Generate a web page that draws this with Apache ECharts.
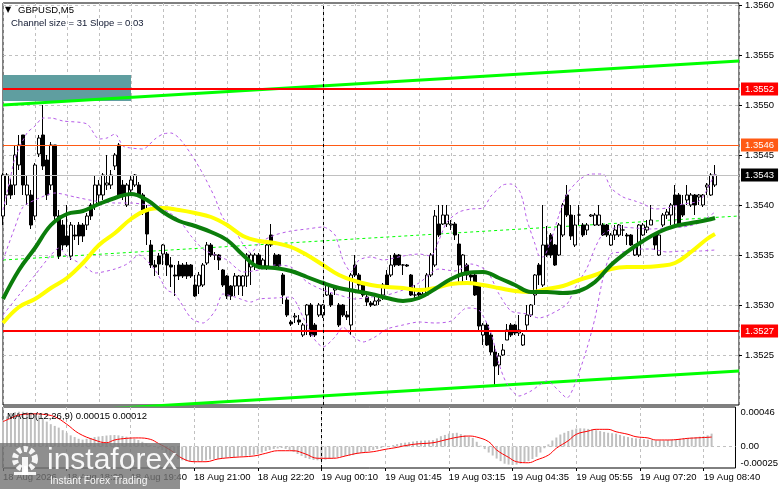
<!DOCTYPE html>
<html>
<head>
<meta charset="utf-8">
<title>GBPUSD,M5</title>
<script src="https://cdn.jsdelivr.net/npm/echarts@6/dist/echarts.min.js"></script>
<style>
  html, body { margin: 0; padding: 0; background: #fff; }
  #chart { width: 781px; height: 489px; }
</style>
</head>
<body>
<div id="chart"></div>
<script>
'use strict';

// time axis: one slot per M5 bar, a label every 16 bars
var tickBars = [0, 16, 32, 48, 64, 80, 96, 112, 128, 144, 160, 176];
var tickLabels = ['18 Aug 2026', '18 Aug 18:20', '18 Aug 19:40', '18 Aug 21:00', '18 Aug 22:20',
    '19 Aug 00:10', '19 Aug 01:45', '19 Aug 03:15', '19 Aug 04:35', '19 Aug 05:55',
    '19 Aug 07:20', '19 Aug 08:40'];
var daySplitBar = 80;

var priceTicks = [1.3525, 1.3530, 1.3535, 1.3540, 1.3545, 1.3550, 1.3555, 1.3560];
var macdTicks = [-0.00025, 0, 0.00046];

// open, close, low, high
var ohlc = [
    [1.35389, 1.35430, 1.35380, 1.35432], [1.35410, 1.35430, 1.35400, 1.35432], [1.35420, 1.35410, 1.35406, 1.35426],
    [1.35420, 1.35450, 1.35410, 1.35460], [1.35440, 1.35460, 1.35435, 1.35470], [1.35470, 1.35420, 1.35410, 1.35470],
    [1.35410, 1.35420, 1.35400, 1.35430], [1.35410, 1.35380, 1.35376, 1.35415], [1.35389, 1.35440, 1.35385, 1.35442],
    [1.35451, 1.35467, 1.35448, 1.35470], [1.35470, 1.35439, 1.35435, 1.35500], [1.35445, 1.35410, 1.35405, 1.35450],
    [1.35420, 1.35460, 1.35415, 1.35463], [1.35460, 1.35389, 1.35385, 1.35460], [1.35389, 1.35349, 1.35346, 1.35395],
    [1.35380, 1.35360, 1.35355, 1.35385], [1.35369, 1.35360, 1.35358, 1.35400], [1.35349, 1.35380, 1.35345, 1.35383],
    [1.35370, 1.35369, 1.35365, 1.35380], [1.35380, 1.35369, 1.35360, 1.35383], [1.35380, 1.35369, 1.35363, 1.35382],
    [1.35380, 1.35389, 1.35375, 1.35392], [1.35400, 1.35389, 1.35385, 1.35402], [1.35400, 1.35420, 1.35395, 1.35430],
    [1.35410, 1.35420, 1.35400, 1.35425], [1.35410, 1.35430, 1.35405, 1.35432], [1.35420, 1.35422, 1.35415, 1.35450],
    [1.35420, 1.35430, 1.35416, 1.35435], [1.35439, 1.35450, 1.35435, 1.35452], [1.35460, 1.35410, 1.35408, 1.35462],
    [1.35420, 1.35410, 1.35405, 1.35425], [1.35400, 1.35420, 1.35398, 1.35422], [1.35415, 1.35425, 1.35412, 1.35430],
    [1.35420, 1.35430, 1.35418, 1.35431], [1.35420, 1.35410, 1.35408, 1.35423], [1.35410, 1.35395, 1.35390, 1.35412],
    [1.35395, 1.35371, 1.35360, 1.35400], [1.35360, 1.35340, 1.35337, 1.35365], [1.35340, 1.35338, 1.35329, 1.35345],
    [1.35349, 1.35341, 1.35330, 1.35352], [1.35351, 1.35360, 1.35340, 1.35361], [1.35351, 1.35340, 1.35329, 1.35353],
    [1.35340, 1.35338, 1.35318, 1.35348], [1.35330, 1.35329, 1.35309, 1.35340], [1.35340, 1.35329, 1.35325, 1.35344],
    [1.35340, 1.35329, 1.35327, 1.35342], [1.35340, 1.35329, 1.35326, 1.35343], [1.35340, 1.35329, 1.35327, 1.35341],
    [1.35320, 1.35309, 1.35308, 1.35330], [1.35319, 1.35330, 1.35311, 1.35333], [1.35320, 1.35340, 1.35318, 1.35342],
    [1.35342, 1.35360, 1.35340, 1.35363], [1.35360, 1.35350, 1.35348, 1.35362], [1.35350, 1.35350, 1.35345, 1.35353],
    [1.35350, 1.35345, 1.35335, 1.35351], [1.35335, 1.35320, 1.35318, 1.35336], [1.35329, 1.35309, 1.35306, 1.35330],
    [1.35319, 1.35309, 1.35305, 1.35320], [1.35319, 1.35329, 1.35309, 1.35332], [1.35319, 1.35329, 1.35310, 1.35330],
    [1.35319, 1.35329, 1.35309, 1.35330], [1.35329, 1.35350, 1.35318, 1.35352], [1.35338, 1.35350, 1.35320, 1.35352],
    [1.35339, 1.35350, 1.35335, 1.35352], [1.35350, 1.35339, 1.35336, 1.35352], [1.35339, 1.35345, 1.35337, 1.35347],
    [1.35339, 1.35360, 1.35335, 1.35362], [1.35370, 1.35360, 1.35358, 1.35381], [1.35350, 1.35339, 1.35336, 1.35352],
    [1.35350, 1.35339, 1.35337, 1.35351], [1.35330, 1.35310, 1.35301, 1.35332], [1.35305, 1.35290, 1.35288, 1.35308],
    [1.35283, 1.35281, 1.35279, 1.35285], [1.35288, 1.35289, 1.35282, 1.35292], [1.35285, 1.35283, 1.35280, 1.35290],
    [1.35270, 1.35280, 1.35268, 1.35282], [1.35290, 1.35300, 1.35270, 1.35301], [1.35300, 1.35270, 1.35268, 1.35302],
    [1.35280, 1.35270, 1.35268, 1.35282], [1.35290, 1.35300, 1.35288, 1.35302], [1.35290, 1.35300, 1.35287, 1.35301],
    [1.35310, 1.35320, 1.35309, 1.35322], [1.35310, 1.35300, 1.35298, 1.35312], [1.35315, 1.35317, 1.35310, 1.35320],
    [1.35300, 1.35280, 1.35278, 1.35302], [1.35300, 1.35290, 1.35288, 1.35301], [1.35290, 1.35288, 1.35285, 1.35294],
    [1.35280, 1.35330, 1.35270, 1.35332], [1.35340, 1.35330, 1.35328, 1.35350], [1.35330, 1.35320, 1.35315, 1.35332],
    [1.35320, 1.35310, 1.35308, 1.35322], [1.35308, 1.35303, 1.35299, 1.35310], [1.35302, 1.35300, 1.35298, 1.35304],
    [1.35300, 1.35304, 1.35299, 1.35308], [1.35304, 1.35305, 1.35300, 1.35310], [1.35310, 1.35320, 1.35305, 1.35322],
    [1.35330, 1.35320, 1.35318, 1.35335], [1.35330, 1.35340, 1.35328, 1.35350], [1.35350, 1.35340, 1.35338, 1.35352],
    [1.35350, 1.35340, 1.35339, 1.35351], [1.35340, 1.35340, 1.35330, 1.35341], [1.35340, 1.35339, 1.35338, 1.35341],
    [1.35330, 1.35310, 1.35309, 1.35331], [1.35310, 1.35310, 1.35305, 1.35320], [1.35312, 1.35310, 1.35308, 1.35313],
    [1.35310, 1.35311, 1.35308, 1.35313], [1.35310, 1.35330, 1.35309, 1.35332], [1.35330, 1.35350, 1.35328, 1.35352],
    [1.35340, 1.35389, 1.35338, 1.35395], [1.35381, 1.35370, 1.35368, 1.35400], [1.35381, 1.35390, 1.35380, 1.35400],
    [1.35381, 1.35390, 1.35378, 1.35400], [1.35380, 1.35381, 1.35375, 1.35385], [1.35381, 1.35370, 1.35365, 1.35383],
    [1.35361, 1.35340, 1.35320, 1.35371], [1.35330, 1.35350, 1.35320, 1.35351], [1.35340, 1.35330, 1.35325, 1.35342],
    [1.35330, 1.35328, 1.35320, 1.35332], [1.35330, 1.35310, 1.35309, 1.35331], [1.35320, 1.35279, 1.35275, 1.35321],
    [1.35270, 1.35280, 1.35260, 1.35282], [1.35280, 1.35260, 1.35259, 1.35282], [1.35270, 1.35253, 1.35250, 1.35272],
    [1.35253, 1.35239, 1.35218, 1.35260], [1.35240, 1.35249, 1.35230, 1.35252], [1.35250, 1.35255, 1.35249, 1.35261],
    [1.35265, 1.35275, 1.35265, 1.35281], [1.35280, 1.35270, 1.35268, 1.35282], [1.35280, 1.35272, 1.35270, 1.35281],
    [1.35272, 1.35275, 1.35269, 1.35290], [1.35260, 1.35270, 1.35259, 1.35272], [1.35280, 1.35290, 1.35275, 1.35300],
    [1.35290, 1.35300, 1.35288, 1.35301], [1.35310, 1.35330, 1.35300, 1.35331], [1.35340, 1.35330, 1.35320, 1.35342],
    [1.35320, 1.35360, 1.35318, 1.35400], [1.35360, 1.35350, 1.35348, 1.35379], [1.35370, 1.35350, 1.35347, 1.35372],
    [1.35360, 1.35340, 1.35339, 1.35361], [1.35350, 1.35380, 1.35349, 1.35382], [1.35370, 1.35400, 1.35368, 1.35402],
    [1.35410, 1.35390, 1.35388, 1.35420], [1.35390, 1.35369, 1.35365, 1.35400], [1.35360, 1.35380, 1.35358, 1.35390],
    [1.35390, 1.35390, 1.35380, 1.35400], [1.35380, 1.35370, 1.35368, 1.35382], [1.35375, 1.35380, 1.35370, 1.35382],
    [1.35389, 1.35390, 1.35388, 1.35391], [1.35380, 1.35390, 1.35379, 1.35392], [1.35380, 1.35390, 1.35379, 1.35400],
    [1.35380, 1.35370, 1.35369, 1.35382], [1.35380, 1.35370, 1.35368, 1.35381], [1.35360, 1.35370, 1.35359, 1.35372],
    [1.35370, 1.35375, 1.35365, 1.35380], [1.35370, 1.35380, 1.35368, 1.35381], [1.35375, 1.35375, 1.35369, 1.35380],
    [1.35370, 1.35369, 1.35360, 1.35372], [1.35370, 1.35360, 1.35359, 1.35371], [1.35350, 1.35360, 1.35349, 1.35361],
    [1.35350, 1.35380, 1.35348, 1.35381], [1.35370, 1.35380, 1.35369, 1.35382], [1.35375, 1.35378, 1.35372, 1.35385],
    [1.35380, 1.35385, 1.35380, 1.35400], [1.35370, 1.35360, 1.35355, 1.35372], [1.35350, 1.35370, 1.35349, 1.35372],
    [1.35380, 1.35390, 1.35378, 1.35392], [1.35390, 1.35393, 1.35386, 1.35396], [1.35390, 1.35400, 1.35380, 1.35402],
    [1.35410, 1.35400, 1.35380, 1.35420], [1.35410, 1.35380, 1.35379, 1.35412], [1.35400, 1.35390, 1.35388, 1.35410],
    [1.35405, 1.35410, 1.35400, 1.35420], [1.35400, 1.35410, 1.35398, 1.35412], [1.35410, 1.35400, 1.35390, 1.35411],
    [1.35408, 1.35410, 1.35400, 1.35411], [1.35400, 1.35410, 1.35398, 1.35411], [1.35418, 1.35420, 1.35410, 1.35422],
    [1.35410, 1.35430, 1.35409, 1.35432], [1.35420, 1.35430, 1.35418, 1.35440]
];

// moving averages and bollinger bands, read at bar positions
var maFast = [[0, 1.35306], [4, 1.35335], [8, 1.35357], [12, 1.35380], [16, 1.35391], [20, 1.35394], [24, 1.35401],
    [28, 1.35407], [32, 1.35411], [36, 1.35405], [40, 1.35393], [44, 1.35384], [48, 1.35379], [52, 1.35373],
    [56, 1.35365], [60, 1.35350], [64, 1.35338], [68, 1.35337], [72, 1.35334], [76, 1.35328], [80, 1.35322],
    [84, 1.35317], [88, 1.35314], [92, 1.35311], [96, 1.35307], [100, 1.35304], [104, 1.35307], [108, 1.35316],
    [112, 1.35326], [116, 1.35332], [120, 1.35333], [124, 1.35327], [128, 1.35320], [132, 1.35313], [136, 1.35313],
    [140, 1.35312], [144, 1.35314], [148, 1.35323], [152, 1.35340], [156, 1.35353], [160, 1.35364], [164, 1.35373],
    [168, 1.35379], [172, 1.35382], [176, 1.35385], [178, 1.35387]];
var maSlow = [[0, 1.35282], [4, 1.35298], [8, 1.35306], [12, 1.35317], [16, 1.35327], [20, 1.35342], [24, 1.35360],
    [28, 1.35372], [32, 1.35386], [36, 1.35395], [40, 1.35397], [44, 1.35395], [48, 1.35392], [52, 1.35388],
    [56, 1.35380], [60, 1.35369], [64, 1.35364], [68, 1.35362], [72, 1.35358], [76, 1.35350], [80, 1.35340],
    [84, 1.35330], [88, 1.35324], [92, 1.35320], [96, 1.35318], [100, 1.35317], [104, 1.35315], [108, 1.35317],
    [112, 1.35321], [116, 1.35322], [120, 1.35320], [124, 1.35317], [128, 1.35314], [132, 1.35313], [136, 1.35316],
    [140, 1.35319], [144, 1.35325], [148, 1.35330], [152, 1.35336], [156, 1.35338], [160, 1.35338], [164, 1.35339],
    [168, 1.35342], [172, 1.35353], [176, 1.35366], [178, 1.35371]];
var bbUpper = [[0, 1.35395], [2, 1.35430], [3, 1.35447], [6, 1.35472], [8, 1.35479], [10, 1.35487], [12, 1.35487],
    [15, 1.35484], [21, 1.35481], [24, 1.35466], [26, 1.35467], [28, 1.35471], [30, 1.35459], [32, 1.35457],
    [35, 1.35456], [38, 1.35466], [40, 1.35471], [42, 1.35472], [44, 1.35467], [47, 1.35451], [50, 1.35431],
    [53, 1.35407], [55, 1.35387], [58, 1.35374], [60, 1.35361], [62, 1.35352], [64, 1.35362], [68, 1.35370],
    [72, 1.35374], [76, 1.35376], [80, 1.35378], [83, 1.35370], [85, 1.35345], [87, 1.35333], [89, 1.35345],
    [92, 1.35348], [95, 1.35345], [100, 1.35349], [104, 1.35351], [107, 1.35349], [109, 1.35365], [111, 1.35383],
    [114, 1.35393], [117, 1.35396], [120, 1.35397], [122, 1.35409], [125, 1.35420], [127, 1.35421], [129, 1.35415],
    [130, 1.35404], [131, 1.35385], [133, 1.35361], [134, 1.35349], [135, 1.35348], [137, 1.35365], [139, 1.35390],
    [141, 1.35411], [144, 1.35425], [147, 1.35431], [150, 1.35431], [152, 1.35417], [155, 1.35408], [158, 1.35404],
    [160, 1.35401], [163, 1.35396], [166, 1.35397], [170, 1.35401], [174, 1.35404], [176, 1.35415], [178, 1.35432]];
var bbMiddle = [[0, 1.35345], [3, 1.35378], [5, 1.35398], [8, 1.35405], [13, 1.35412], [18, 1.35408], [23, 1.35404],
    [28, 1.35402], [32, 1.35402], [36, 1.35400], [40, 1.35396], [44, 1.35385], [47, 1.35369], [50, 1.35356],
    [53, 1.35350], [56, 1.35345], [60, 1.35333], [64, 1.35335], [68, 1.35340], [72, 1.35338], [76, 1.35323],
    [80, 1.35315], [84, 1.35310], [88, 1.35306], [92, 1.35308], [96, 1.35310], [100, 1.35315], [104, 1.35322],
    [109, 1.35336], [113, 1.35334], [117, 1.35341], [121, 1.35334], [124, 1.35311], [127, 1.35294], [131, 1.35291],
    [134, 1.35287], [137, 1.35291], [141, 1.35301], [143, 1.35317], [146, 1.35337], [148, 1.35357], [150, 1.35371],
    [154, 1.35378], [158, 1.35377], [162, 1.35376], [166, 1.35377], [170, 1.35378], [174, 1.35382], [178, 1.35393]];
var bbLower = [[0, 1.35290], [4, 1.35310], [8, 1.35330], [12, 1.35350], [14, 1.35357], [16, 1.35349], [20, 1.35340],
    [23, 1.35332], [28, 1.35336], [31, 1.35341], [34, 1.35350], [38, 1.35335], [41, 1.35315], [43, 1.35311],
    [47, 1.35287], [50, 1.35282], [53, 1.35294], [55, 1.35311], [58, 1.35308], [62, 1.35303], [64, 1.35306],
    [68, 1.35307], [72, 1.35308], [75, 1.35288], [78, 1.35265], [80, 1.35258], [83, 1.35268], [85, 1.35278],
    [87, 1.35270], [90, 1.35263], [93, 1.35268], [96, 1.35276], [100, 1.35280], [104, 1.35283], [108, 1.35282],
    [112, 1.35284], [116, 1.35297], [119, 1.35295], [122, 1.35272], [124, 1.35241], [126, 1.35221], [129, 1.35209],
    [132, 1.35214], [136, 1.35224], [139, 1.35214], [141, 1.35207], [143, 1.35221], [146, 1.35257], [148, 1.35287],
    [150, 1.35327], [152, 1.35351], [155, 1.35353], [158, 1.35356], [162, 1.35356], [166, 1.35353], [170, 1.35354],
    [174, 1.35354], [178, 1.35355]];

// regression channel ends (bar 0 and bar 184)
var channelBars = [0, 184];
var channelTop = [1.35500, 1.35544];
var channelMid = [1.35345, 1.35389];
var channelLow = [1.35190, 1.35234];

// horizontal levels
var levelValues = [1.35516, 1.35460, 1.35430, 1.35274];
var levelTexts = ['1.3552', '1.3546', '1.3543', '1.3527'];
var zoneBars = [0, 32];
var zonePrices = [1.35504, 1.35530];

// MACD(12,26,9)
var macdHist = [
    31e-5, 35e-5, 39e-5, 40e-5, 40.5e-5, 40.5e-5, 40e-5, 39.5e-5, 39e-5, 36e-5,
    33e-5, 29e-5, 26e-5, 24e-5, 22e-5, 19e-5, 16e-5, 13e-5, 11e-5, 9e-5,
    8e-5, 9e-5, 10e-5, 11e-5, 11.6e-5, 12.2e-5, 12.8e-5, 13.2e-5, 13.4e-5, 13e-5,
    12.2e-5, 11.4e-5, 10.5e-5, 9e-5, 7.6e-5, 5.5e-5, 3.5e-5, 1.5e-5, -0.6e-5, -2.3e-5,
    -4e-5, -7e-5, -10e-5, -12.3e-5, -14.5e-5, -16e-5, -17e-5, -17.3e-5, -17.5e-5, -17.3e-5,
    -17e-5, -16e-5, -15e-5, -14.5e-5, -14e-5, -13.4e-5, -12.8e-5, -12.5e-5, -12.2e-5, -11.6e-5,
    -11e-5, -10.8e-5, -10.5e-5, -9.6e-5, -8.7e-5, -7e-5, -5.2e-5, -4e-5, -2.9e-5, -2.3e-5,
    -1.7e-5, -2.8e-5, -4e-5, -6.3e-5, -8.7e-5, -11e-5, -13.4e-5, -14.6e-5, -15.7e-5, -16e-5,
    -16.3e-5, -15.4e-5, -14.5e-5, -13.4e-5, -12.2e-5, -11.6e-5, -11e-5, -10.5e-5, -10e-5, -8.8e-5,
    -7.6e-5, -6.4e-5, -5.2e-5, -4e-5, -2.9e-5, -1.7e-5, -0.6e-5, 0.5e-5, 1.7e-5, 2.8e-5,
    4e-5, 4.5e-5, 5e-5, 5.8e-5, 6.5e-5, 6.8e-5, 7e-5, 7.2e-5, 7.5e-5, 9.5e-5,
    12e-5, 13.5e-5, 15e-5, 15.5e-5, 16e-5, 14.5e-5, 13e-5, 11.5e-5, 10e-5, 5.5e-5,
    1e-5, -3e-5, -7e-5, -10.5e-5, -14e-5, -17e-5, -20e-5, -21e-5, -21.5e-5, -21e-5,
    -20e-5, -18.5e-5, -17e-5, -14.5e-5, -12e-5, -7e-5, -2e-5, 2.5e-5, 7e-5, 10.5e-5,
    14e-5, 16e-5, 18e-5, 19.5e-5, 21e-5, 21.2e-5, 21e-5, 20.5e-5, 20e-5, 19e-5,
    18e-5, 17e-5, 16e-5, 15.5e-5, 15e-5, 13.5e-5, 12e-5, 11e-5, 10e-5, 9.5e-5,
    9e-5, 8.5e-5, 8e-5, 7.5e-5, 7e-5, 7e-5, 7e-5, 7.5e-5, 8e-5, 8.5e-5,
    9e-5, 9.5e-5, 10e-5, 10.5e-5, 11e-5, 11.5e-5, 12e-5, 13e-5, 15e-5
];
var macdSignal = [[0, 29e-5], [2, 33e-5], [4, 36.7e-5], [8, 38e-5], [10, 37.5e-5], [13, 34.7e-5], [16, 26e-5],
    [19, 15.4e-5], [23, 7.6e-5], [26, 4.4e-5], [28, 7.6e-5], [31, 9.5e-5], [34, 10e-5], [37, 8.4e-5], [39, 3.7e-5],
    [42, -4e-5], [45, -13.7e-5], [48, -17.7e-5], [51, -17.7e-5], [54, -14.5e-5], [58, -12.6e-5], [63, -11e-5],
    [66, -7.9e-5], [69, -4.9e-5], [73, -4.9e-5], [76, -8.7e-5], [79, -13.7e-5], [83, -13.7e-5], [86, -11e-5],
    [89, -7.9e-5], [93, -6e-5], [96, -3.3e-5], [99, -1e-5], [101, 1e-5], [104, 3e-5], [108, 4.4e-5], [111, 7.6e-5],
    [114, 10.7e-5], [117, 12.2e-5], [119, 11e-5], [122, 5.6e-5], [124, -4e-5], [127, -12.6e-5], [129, -17.7e-5],
    [132, -18.9e-5], [134, -15.7e-5], [137, -10e-5], [139, -2e-5], [142, 6.8e-5], [144, 14.2e-5], [147, 18e-5],
    [149, 20e-5], [152, 20e-5], [154, 17.2e-5], [157, 14.2e-5], [159, 11.4e-5], [162, 10e-5], [164, 7.6e-5],
    [167, 7.6e-5], [169, 8e-5], [172, 9.5e-5], [174, 10e-5], [177, 10.7e-5], [178, 11e-5]];

var FONT = 'Liberation Sans';
var GRID_LINE = { color: '#c0c0c0', type: [3, 3], width: 1 };
var levelStyles = [
    { line: '#ff0000', width: 2, box: '#ff0000', text: '#fff' },
    { line: '#ff5a14', width: 1, box: '#ff5a14', text: '#fff' },
    { line: '#c0c0c0', width: 1, box: '#000', text: '#fff' },
    { line: '#ff0000', width: 2, box: '#ff0000', text: '#fff' }
];

var candleRows = ohlc.map(function (r, i) { return [i, r[0], r[1], r[2], r[3]]; });
var histRows = macdHist.map(function (v, i) { return [i, v]; });

function twoPoint(vals) {
    return [[channelBars[0], vals[0]], [channelBars[1], vals[1]]];
}

function line(name, data, color, width, dash, smooth, extra) {
    var s = {
        name: name,
        type: 'line',
        xAxisIndex: 0,
        yAxisIndex: 0,
        data: data,
        symbol: 'none',
        smooth: smooth,
        silent: true,
        z: 4,
        lineStyle: { color: color, width: width, type: dash ? [3, 3] : 'solid' }
    };
    if (extra) Object.keys(extra).forEach(function (k) { s[k] = extra[k]; });
    return s;
}

function timeAxis(gridIndex, withLabels) {
    return {
        type: 'value',
        gridIndex: gridIndex,
        min: 0,
        max: 184,
        interval: 8,
        axisLine: { show: false, onZero: false },
        axisTick: withLabels
            ? { show: true, customValues: tickBars, length: 3, lineStyle: { color: '#000' } }
            : { show: false },
        axisLabel: withLabels ? {
            show: true,
            customValues: tickBars,
            formatter: function (v) { return tickLabels[tickBars.indexOf(v)] || ''; },
            align: 'left',
            margin: 4,
            color: '#000',
            fontFamily: FONT,
            fontSize: 9.5
        } : { show: false },
        splitLine: { show: true, lineStyle: GRID_LINE }
    };
}

function macdAxis(values, vAlign) {
    return {
        type: 'value',
        gridIndex: 1,
        position: 'right',
        min: -0.00025,
        max: 0.00046,
        axisLine: { show: false, onZero: false },
        axisTick: { show: false },
        splitLine: { show: false },
        axisLabel: {
            customValues: values,
            formatter: function (v) { return v === 0 ? '0.00' : v.toFixed(5); },
            verticalAlign: vAlign,
            margin: 5,
            color: '#000',
            fontFamily: FONT,
            fontSize: 9.5
        }
    };
}

// each level is a line from the first to the last slot, labelled on the right
var levelMarks = levelValues.map(function (v, i) {
    var st = levelStyles[i];
    var lineStyle = { color: st.line, width: st.width, type: 'solid' };
    var label = {
        show: true,
        position: 'end',
        formatter: levelTexts[i],
        color: st.text,
        backgroundColor: st.box,
        padding: [2, 4, 1, 4],
        distance: 2,
        fontFamily: FONT,
        fontSize: 9.5
    };
    return [
        { coord: [channelBars[0], v], lineStyle: lineStyle, label: label },
        { coord: [channelBars[1], v], lineStyle: lineStyle, label: label }
    ];
});
var dayMark = {
    xAxis: daySplitBar,
    lineStyle: { color: '#000', width: 1, type: [3, 3] },
    label: { show: false }
};

var option = {
    animation: false,
    backgroundColor: '#fff',
    grid: [
        { left: 3, top: 3, width: 736, height: 402, show: true, borderColor: '#000', borderWidth: 1, backgroundColor: 'transparent' },
        { left: 3, top: 407, width: 736, height: 61, show: true, borderColor: '#000', borderWidth: 1, backgroundColor: 'transparent' }
    ],
    xAxis: [timeAxis(0, false), timeAxis(1, true)],
    yAxis: [
        {
            type: 'value',
            gridIndex: 0,
            position: 'right',
            min: 1.3520,
            max: 1.35602,
            interval: 0.0005,
            axisLine: { show: false, onZero: false },
            axisTick: { show: true, customValues: priceTicks, length: 3, lineStyle: { color: '#000' } },
            axisLabel: {
                customValues: priceTicks,
                formatter: function (v) { return v.toFixed(4); },
                margin: 6,
                color: '#000',
                fontFamily: FONT,
                fontSize: 9.5
            },
            splitLine: { show: true, lineStyle: GRID_LINE }
        },
        macdAxis([macdTicks[2]], 'top'),
        macdAxis([macdTicks[1]], 'middle'),
        macdAxis([macdTicks[0]], 'bottom')
    ],
    series: [
        line('channel middle', twoPoint(channelMid), '#00ff00', 1, true, false, {
            z: 1,
            clip: false,
            markArea: {
                silent: true,
                itemStyle: { color: '#5f9ea0', opacity: 1 },
                data: [[{ xAxis: zoneBars[0], yAxis: zonePrices[1] }, { xAxis: zoneBars[1], yAxis: zonePrices[0] }]]
            },
            markLine: { silent: true, symbol: ['none', 'none'], data: levelMarks.concat([dayMark]) }
        }),
        {
            name: 'GBPUSD,M5',
            type: 'candlestick',
            xAxisIndex: 0,
            yAxisIndex: 0,
            dimensions: ['bar', 'open', 'close', 'low', 'high'],
            encode: { x: 'bar', y: ['open', 'close', 'low', 'high'] },
            data: candleRows,
            barWidth: 3,
            silent: true,
            z: 3,
            itemStyle: {
                color: '#fff',
                color0: '#000',
                borderColor: '#000',
                borderColor0: '#000',
                borderColorDoji: '#000',
                borderWidth: 1
            }
        },
        line('channel top', twoPoint(channelTop), '#00ff00', 3, false, false),
        line('channel bottom', twoPoint(channelLow), '#00ff00', 3, false, false),
        line('bands upper', bbUpper, '#b65ce8', 1, true, 0.25),
        line('bands middle', bbMiddle, '#b65ce8', 1, true, 0.25),
        line('bands lower', bbLower, '#b65ce8', 1, true, 0.25),
        line('ma slow', maSlow, '#ffff00', 4, false, 0.4),
        line('ma fast', maFast, '#0b7d0b', 4, false, 0.4),
        {
            name: 'macd zero',
            type: 'line',
            xAxisIndex: 1,
            yAxisIndex: 1,
            data: [[0, 0], [184, 0]],
            symbol: 'none',
            silent: true,
            lineStyle: GRID_LINE
        },
        {
            name: 'MACD',
            type: 'bar',
            xAxisIndex: 1,
            yAxisIndex: 1,
            data: histRows,
            barWidth: 2,
            silent: true,
            itemStyle: { color: '#c0c0c0' },
            markLine: {
                silent: true,
                symbol: ['none', 'none'],
                data: [dayMark]
            }
        },
        {
            name: 'Signal',
            type: 'line',
            xAxisIndex: 1,
            yAxisIndex: 1,
            data: macdSignal,
            symbol: 'none',
            smooth: 0.4,
            silent: true,
            lineStyle: { color: '#ff0000', width: 1 }
        }
    ],
    graphic: [
        { type: 'text', z: 50, style: { text: '\u25BC', x: 5, y: 10, font: '8px "DejaVu Sans"', fill: '#000', verticalAlign: 'middle' } },
        { type: 'text', z: 50, style: { text: 'GBPUSD,M5', x: 18, y: 10.5, font: '9.5px "Liberation Sans"', fill: '#000', verticalAlign: 'middle' } },
        { type: 'text', z: 50, style: { text: 'Channel size = 31 Slope = 0.03', x: 11, y: 23.5, font: '9.5px "Liberation Sans"', fill: '#101830', verticalAlign: 'middle' } },
        { type: 'text', z: 50, style: { text: 'MACD(12,26,9) 0.00015 0.00012', x: 7, y: 416, font: '9.5px "Liberation Sans"', fill: '#000', verticalAlign: 'middle' } },
        // watermark
        { type: 'rect', z: 100, shape: { x: 0, y: 443, width: 180, height: 46 }, style: { fill: 'rgba(115,115,115,0.8)' } },
        { type: 'circle', z: 101, shape: { cx: 25, cy: 459, r: 10 }, style: { fill: 'none', stroke: 'rgba(255,255,255,0.92)', lineWidth: 6, lineDash: [4, 2.5] } },
        { type: 'rect', z: 101, shape: { x: 22, y: 457, width: 6, height: 18 }, style: { fill: 'rgba(255,255,255,0.92)' } },
        { type: 'rect', z: 101, shape: { x: 14, y: 472, width: 22, height: 3 }, style: { fill: 'rgba(255,255,255,0.92)' } },
        { type: 'text', z: 101, style: { text: 'instaforex', x: 47, y: 461, font: '30px "Liberation Sans"', fill: 'rgba(255,255,255,0.93)', verticalAlign: 'middle' } },
        { type: 'text', z: 101, style: { text: 'Instant Forex Trading', x: 50, y: 481, font: '10.3px "Liberation Sans"', fill: 'rgba(255,255,255,0.93)', verticalAlign: 'middle' } }
    ]
};

var chart = echarts.init(document.getElementById('chart'));
chart.setOption(option);
</script>
</body>
</html>
